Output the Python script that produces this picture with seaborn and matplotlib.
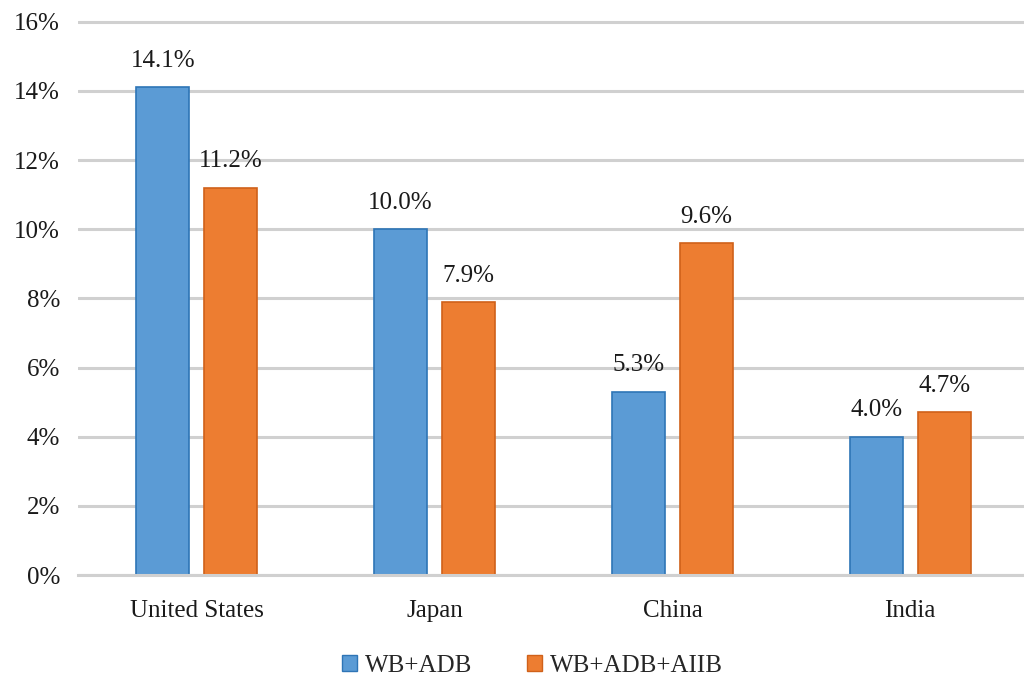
import pandas as pd
import seaborn as sns
import matplotlib.pyplot as plt
from matplotlib.patches import Patch

countries = ['United States', 'Japan', 'China', 'India']
wb_adb = [14.1, 10.0, 5.3, 4.0]
wb_adb_aiib = [11.2, 7.9, 9.6, 4.7]
series = ['WB+ADB', 'WB+ADB+AIIB']
colors = ['#5B9BD5', '#ED7D31']
edges = ['#2E75B6', '#D0611A']

df = pd.DataFrame({
    'country': countries * 2,
    'value': wb_adb + wb_adb_aiib,
    'series': [series[0]] * 4 + [series[1]] * 4,
})

sns.set_style('white')
plt.rcParams['font.family'] = ['Liberation Serif', 'DejaVu Serif']

fig = plt.figure(figsize=(10.24, 6.88), dpi=100)
ax = fig.add_axes([78 / 1024, 113 / 688, 951 / 1024, 555 / 688])

sns.barplot(data=df, x='country', y='value', hue='series', palette=colors,
            saturation=1, width=0.572, gap=0.22, ax=ax, legend=False)

for cont, ec in zip(ax.containers, edges):
    for bar in cont:
        bar.set_edgecolor(ec)
        bar.set_linewidth(1.2)
    ax.bar_label(cont, labels=[f'{v:.1f}%' for v in cont.datavalues],
                 padding=11, fontsize=18, color='#1a1a1a')

ax.set_xlim(-0.5, 3.5)
ax.set_ylim(0, 16.05)
ax.set_yticks(range(0, 17, 2))
ax.set_yticklabels([f'{t}%' for t in range(0, 17, 2)], fontsize=18, color='#1a1a1a')
ax.tick_params(axis='x', labelsize=18, colors='#1a1a1a', pad=18, length=0)
ax.tick_params(axis='y', pad=13, length=0)
ax.set_xlabel('')
ax.set_ylabel('')
ax.grid(axis='y', color='#D0D0D0', linewidth=2.2)
ax.set_axisbelow(True)
for s in ['top', 'right', 'left']:
    ax.spines[s].set_visible(False)
ax.spines['bottom'].set_color('#D0D0D0')
ax.spines['bottom'].set_linewidth(2.2)

handles = [Patch(facecolor=c, edgecolor=e) for c, e in zip(colors, edges)]
fig.legend(handles, series, loc='center', bbox_to_anchor=(0.52, 22 / 688),
           ncol=2, frameon=False, fontsize=18, handlelength=0.6, handleheight=0.6,
           handletextpad=0.3, columnspacing=2.2)

fig.savefig('out.png', dpi=100)
